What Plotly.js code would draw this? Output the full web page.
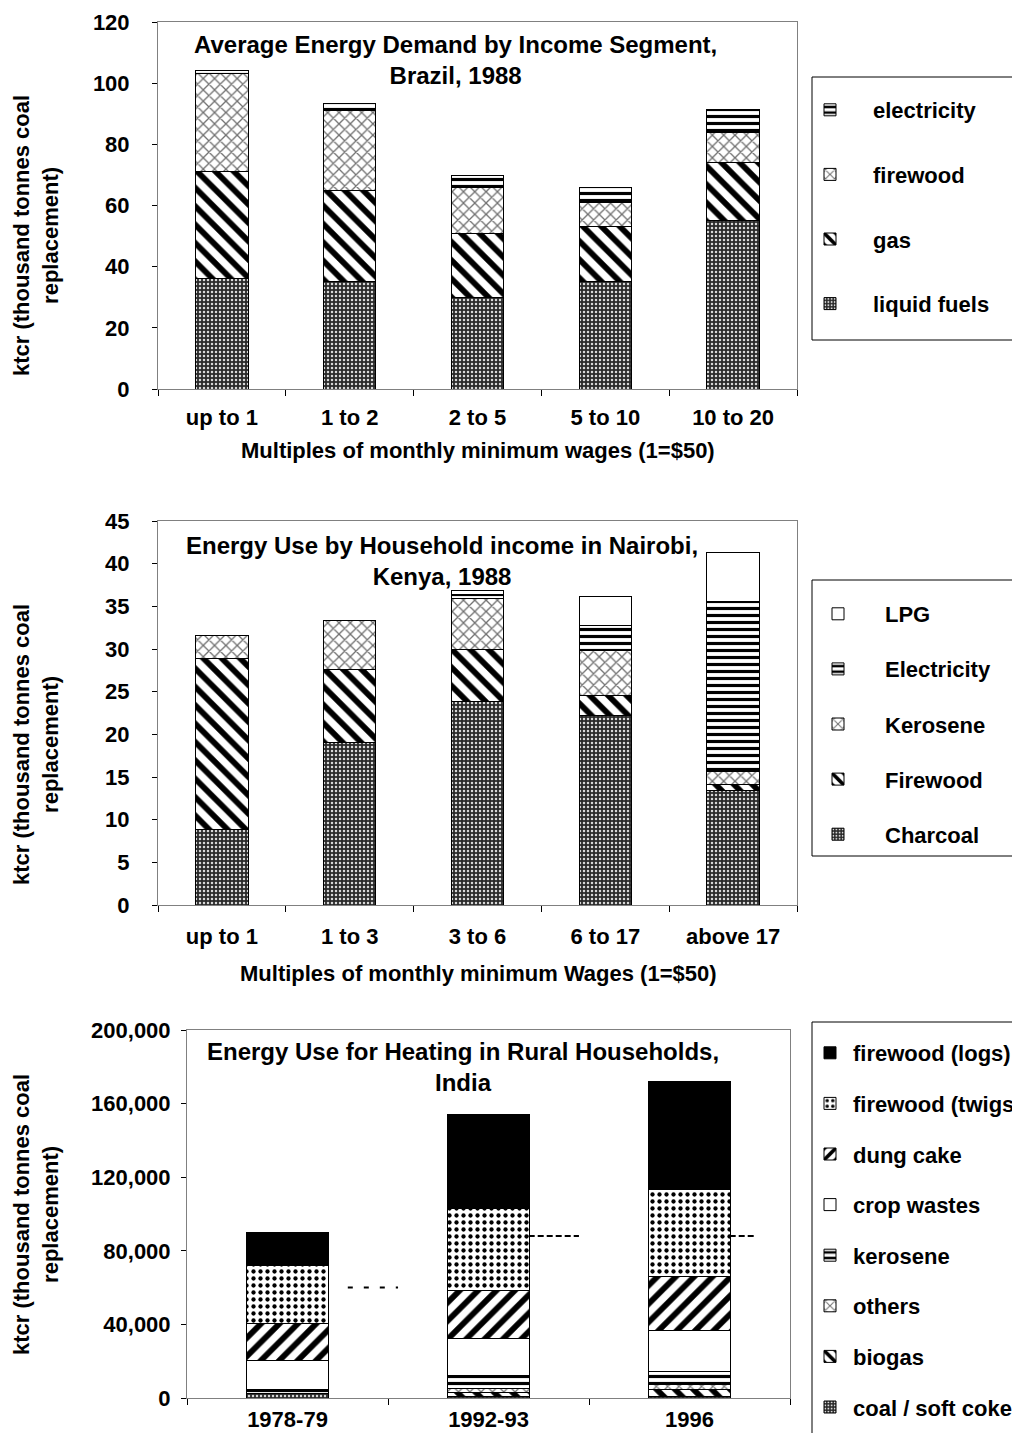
<!DOCTYPE html>
<html><head><meta charset="utf-8">
<script src="https://cdn.plot.ly/plotly-3.0.1.min.js"></script>
<style>body{margin:0;background:#fff}#chart{width:1012px;height:1433px}</style>
</head><body><div id="chart"></div>
<script>
// ---------- DATA ----------
const brazilCats = ['up to 1', '1 to 2', '2 to 5', '5 to 10', '10 to 20'];
const brazilLiquidFuels = [36, 35, 30, 35, 55];
const brazilGas = [35, 30, 21, 18, 19];
const brazilFirewood = [32, 26, 15, 8, 10];
const brazilElectricity = [1.3, 2.2, 3.8, 4.9, 7.4];

const kenyaCats = ['up to 1', '1 to 3', '3 to 6', '6 to 17', 'above 17'];
const kenyaCharcoal = [8.9, 19.0, 23.8, 22.2, 13.4];
const kenyaFirewood = [20.0, 8.6, 6.1, 2.3, 0.7];
const kenyaKerosene = [2.7, 5.7, 6.0, 5.3, 1.6];
const kenyaElectricity = [0, 0, 0.5, 3.0, 19.9];
const kenyaLPG = [0, 0, 0.4, 3.4, 5.7];

const indiaCats = ['1978-79', '1992-93', '1996'];
const indiaCoal = [2400, 600, 600];
const indiaBiogas = [0, 2200, 3800];
const indiaOthers = [200, 2500, 2700];
const indiaKerosene = [2200, 6700, 7400];
const indiaCropWastes = [15400, 20300, 22200];
const indiaDungCake = [20300, 26300, 29400];
const indiaTwigs = [31600, 44600, 47200];
const indiaLogs = [17600, 50900, 58600];

// dashed reference marks on the India chart (category-index positions and values)
const indiaRefFrom = [0.3, 1.2, 2.2];
const indiaRefTo = [0.55, 1.45, 2.32];
const indiaRefValue = [60000, 88000, 88000];

// ---------- STYLE ----------
const W = 1012, H = 1433;
const fx = v => v / W, fy = v => 1 - v / H;
const FONT = 'Arial, "Liberation Sans", sans-serif';
const bold = (size) => ({family: FONT, size: size, color: '#000', weight: 'bold'});

const PAT = {
  dark:   {shape: '.', fgcolor: '#d8d8d8', bgcolor: '#2a2a2a', size: 4, solidity: 0.3},
  back:   {shape: '\\', fgcolor: '#000', bgcolor: '#fff', size: 13, solidity: 0.45},
  fwd:    {shape: '/', fgcolor: '#000', bgcolor: '#fff', size: 13, solidity: 0.45},
  wavy:   {shape: 'x', fgcolor: '#707070', bgcolor: '#fff', size: 8, solidity: 0.3},
  hline:  {shape: '-', fgcolor: '#000', bgcolor: '#fff', size: 7, solidity: 0.45},
  dots:   {shape: '.', fgcolor: '#000', bgcolor: '#fff', size: 7, solidity: 0.3}
};

let rank = 100;
function bar(name, x, y, xa, ya, leg, style) {
  const marker = {line: {color: '#000', width: 1}};
  if (style === 'white') marker.color = '#fff';
  else if (style === 'black') marker.color = '#000';
  else { marker.color = PAT[style].bgcolor; marker.pattern = PAT[style]; }
  rank -= 1;
  return {type: 'bar', name: name, x: x, y: y, xaxis: xa, yaxis: ya,
          legend: leg, legendgroup: leg + name, legendrank: rank, marker: marker,
          hoverinfo: 'x+y+name'};
}

const traces = [
  bar('liquid fuels', brazilCats, brazilLiquidFuels, 'x', 'y', 'legend', 'dark'),
  bar('gas', brazilCats, brazilGas, 'x', 'y', 'legend', 'back'),
  bar('firewood', brazilCats, brazilFirewood, 'x', 'y', 'legend', 'wavy'),
  bar('electricity', brazilCats, brazilElectricity, 'x', 'y', 'legend', 'hline'),

  bar('Charcoal', kenyaCats, kenyaCharcoal, 'x2', 'y2', 'legend2', 'dark'),
  bar('Firewood', kenyaCats, kenyaFirewood, 'x2', 'y2', 'legend2', 'back'),
  bar('Kerosene', kenyaCats, kenyaKerosene, 'x2', 'y2', 'legend2', 'wavy'),
  bar('Electricity', kenyaCats, kenyaElectricity, 'x2', 'y2', 'legend2', 'hline'),
  bar('LPG', kenyaCats, kenyaLPG, 'x2', 'y2', 'legend2', 'white'),

  bar('coal / soft coke', indiaCats, indiaCoal, 'x3', 'y3', 'legend3', 'dark'),
  bar('biogas', indiaCats, indiaBiogas, 'x3', 'y3', 'legend3', 'back'),
  bar('others', indiaCats, indiaOthers, 'x3', 'y3', 'legend3', 'wavy'),
  bar('kerosene', indiaCats, indiaKerosene, 'x3', 'y3', 'legend3', 'hline'),
  bar('crop wastes', indiaCats, indiaCropWastes, 'x3', 'y3', 'legend3', 'white'),
  bar('dung cake', indiaCats, indiaDungCake, 'x3', 'y3', 'legend3', 'fwd'),
  bar('firewood (twigs)', indiaCats, indiaTwigs, 'x3', 'y3', 'legend3', 'dots'),
  bar('firewood (logs)', indiaCats, indiaLogs, 'x3', 'y3', 'legend3', 'black')
];

function xAx(l, r, anchor, standoff) {
  return {domain: [fx(l), fx(r)], anchor: anchor, type: 'category',
    showline: true, linecolor: '#808080', linewidth: 1, mirror: true,
    ticks: 'outside', tickson: 'boundaries', ticklen: 6, tickcolor: '#000',
    showgrid: false, zeroline: false, tickfont: bold(22), ticklabelstandoff: standoff,
    fixedrange: true};
}
function yAx(t, b, anchor, range, dtick, standoff, fmt) {
  return {domain: [fy(b), fy(t)], anchor: anchor, range: range, dtick: dtick,
    tick0: 0, showline: true, linecolor: '#808080', linewidth: 1, mirror: true,
    ticks: 'outside', ticklen: 5, tickcolor: '#000', showgrid: false,
    zeroline: false, tickfont: bold(22), ticklabelstandoff: standoff,
    tickformat: fmt || '', fixedrange: true};
}

function legendAt(left, top, itemwidth, gap) {
  return {x: fx(left), y: fy(top), xanchor: 'left', yanchor: 'top',
    font: bold(22), bgcolor: 'rgba(0,0,0,0)', borderwidth: 0,
    traceorder: 'grouped', itemwidth: itemwidth, tracegroupgap: gap};
}

const yTitle = 'ktcr (thousand tonnes coal<br>replacement)';
function ann(text, x, y, size, angle) {
  return {text: text, xref: 'paper', yref: 'paper', x: fx(x), y: fy(y),
    xanchor: 'center', yanchor: 'middle', showarrow: false,
    font: bold(size), textangle: angle || 0, align: 'center'};
}

const shapes = [
  {type: 'rect', xref: 'paper', yref: 'paper', x0: fx(812), x1: fx(1030), y0: fy(77), y1: fy(340), line: {color: '#000', width: 1}},
  {type: 'rect', xref: 'paper', yref: 'paper', x0: fx(812), x1: fx(1030), y0: fy(580), y1: fy(856), line: {color: '#000', width: 1}},
  {type: 'rect', xref: 'paper', yref: 'paper', x0: fx(812), x1: fx(1030), y0: fy(1022), y1: fy(1450), line: {color: '#000', width: 1}}
];
indiaRefValue.forEach((v, i) => {
  shapes.push({type: 'line', xref: 'x3', yref: 'y3', x0: indiaRefFrom[i], x1: indiaRefTo[i],
    y0: v, y1: v, line: {color: '#000', width: 2, dash: i === 0 ? '5px,11px' : '6px,3px'}});
});

const layout = {
  width: W, height: H, margin: {l: 0, r: 0, t: 0, b: 0, autoexpand: false},
  paper_bgcolor: '#fff', plot_bgcolor: '#fff',
  barmode: 'stack', bargap: 0.59, showlegend: true,
  font: {family: FONT, color: '#000'},
  xaxis: xAx(158, 797, 'y', 9),
  yaxis: yAx(22, 389, 'x', [0, 120], 20, 18),
  xaxis2: xAx(158, 797, 'y2', 12),
  yaxis2: yAx(521, 905, 'x2', [0, 45], 5, 18),
  xaxis3: xAx(187, 790, 'y3', 2),
  yaxis3: yAx(1030, 1398, 'x3', [0, 200000], 40000, 6, ','),
  legend: legendAt(787, 89, 76, 33),
  legend2: legendAt(791, 593, 84, 23.5),
  legend3: legendAt(807, 1032, 36, 19),
  shapes: shapes,
  annotations: [
    ann('Average Energy Demand by Income Segment,<br>Brazil, 1988', 455, 60, 24),
    ann('Energy Use by Household income in Nairobi,<br>Kenya, 1988', 442, 561, 24),
    ann('Energy Use for Heating in Rural Households,<br>India', 463, 1067, 24),
    ann('Multiples of monthly minimum wages (1=$50)', 478, 450, 22),
    ann('Multiples of monthly minimum Wages (1=$50)', 478, 973, 22),
    ann(yTitle, 36, 236, 22, -90),
    ann(yTitle, 36, 745, 22, -90),
    ann(yTitle, 36, 1215, 22, -90)
  ]
};

Plotly.newPlot('chart', traces, layout, {staticPlot: true, displayModeBar: false});
</script>
</body></html>
